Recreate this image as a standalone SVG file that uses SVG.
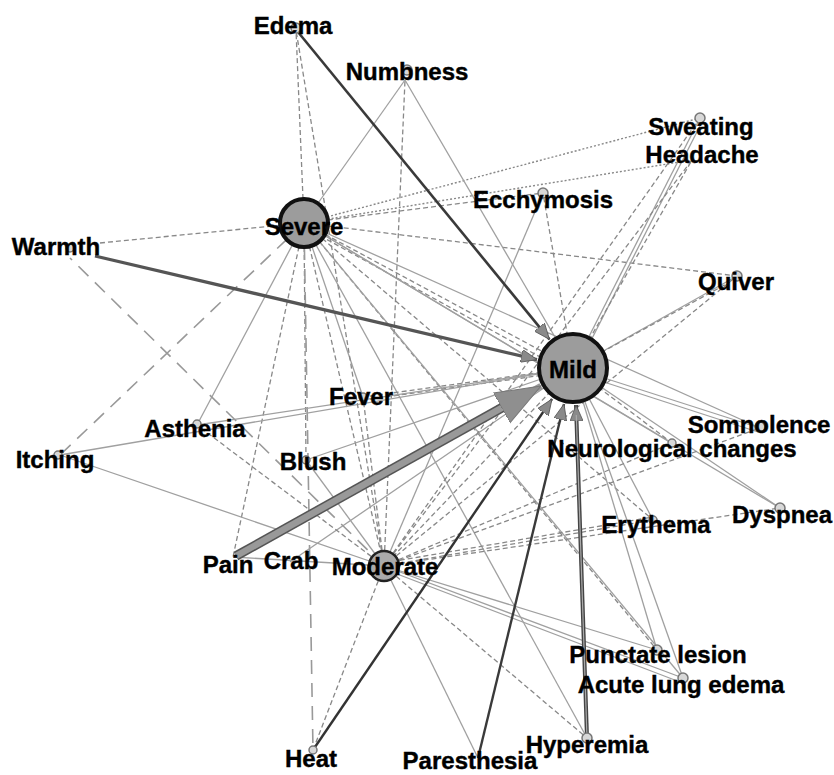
<svg xmlns="http://www.w3.org/2000/svg" width="834" height="775" viewBox="0 0 834 775">
<style>
.s{stroke:#a0a0a0;stroke-width:1.3;fill:none}
.d{stroke:#888;stroke-width:1.3;stroke-dasharray:5 3;fill:none}
.t{stroke:#888;stroke-width:1.4;stroke-dasharray:2 2;fill:none}
.l{stroke:#999;stroke-width:1.6;stroke-dasharray:14 9;fill:none}
.a{stroke:#3a3a3a;stroke-width:2.6;fill:none}
.lbl{font-family:"Liberation Sans",Arial,sans-serif;font-weight:bold;font-size:24px;fill:#000;stroke:#000;stroke-width:0.4;text-anchor:middle}
.sm{fill:#d8d8d8;stroke:#777;stroke-width:1.5}
.big{fill:#9c9c9c;stroke:#111;stroke-width:4}
</style>
<defs>
<marker id="ah" markerUnits="userSpaceOnUse" markerWidth="17" markerHeight="13" refX="16" refY="6.5" orient="auto">
<path d="M0,0 L16,6.5 L0,13 z" fill="#8a8a8a" stroke="#555" stroke-width="0.8"/>
</marker>
<marker id="ahb" markerUnits="userSpaceOnUse" markerWidth="46" markerHeight="36" refX="45" refY="18" orient="auto">
<path d="M0,1 L45,18 L0,35 z" fill="#8f8f8f" stroke="#777" stroke-width="1"/>
</marker>
</defs>
<rect width="834" height="775" fill="#fff"/>
<g id="connectors">
<line class="d" x1="304" y1="223" x2="296" y2="30"/>
<line class="s" x1="304" y1="223" x2="405" y2="80"/>
<line class="t" x1="304" y1="223" x2="700" y2="118"/>
<line class="t" x1="304" y1="223" x2="692" y2="160"/>
<line class="d" x1="304" y1="223" x2="543" y2="193"/>
<line class="d" x1="304" y1="223" x2="100" y2="243"/>
<line class="d" x1="304" y1="223" x2="737" y2="276"/>
<line class="d" x1="304" y1="223" x2="573" y2="368"/>
<line class="d" x1="306" y1="228" x2="571" y2="374"/>
<line class="l" x1="304" y1="223" x2="60" y2="455"/>
<line class="s" x1="304" y1="223" x2="197" y2="425"/>
<line class="d" x1="304" y1="223" x2="306" y2="460"/>
<line class="s" x1="304" y1="223" x2="363" y2="397"/>
<line class="d" x1="304" y1="223" x2="384" y2="566"/>
<line class="l" x1="304" y1="223" x2="313" y2="750"/>
<line class="d" x1="304" y1="223" x2="233" y2="557"/>
<line class="s" x1="304" y1="223" x2="760" y2="428"/>
<line class="s" x1="304" y1="223" x2="672" y2="443"/>
<line class="s" x1="304" y1="223" x2="780" y2="508"/>
<line class="d" x1="304" y1="223" x2="653" y2="520"/>
<line class="d" x1="304" y1="223" x2="657" y2="650"/>
<line class="s" x1="304" y1="223" x2="683" y2="678"/>
<line class="s" x1="304" y1="223" x2="587" y2="738"/>
<line class="s" x1="573" y1="368" x2="700" y2="118"/>
<line class="s" x1="577" y1="368" x2="703" y2="120"/>
<line class="d" x1="573" y1="368" x2="692" y2="160"/>
<line class="d" x1="573" y1="368" x2="543" y2="193"/>
<line class="s" x1="573" y1="368" x2="405" y2="80"/>
<line class="s" x1="573" y1="368" x2="737" y2="276"/>
<line class="d" x1="573" y1="368" x2="730" y2="282"/>
<line class="s" x1="573" y1="368" x2="760" y2="428"/>
<line class="s" x1="573" y1="372" x2="758" y2="432"/>
<line class="d" x1="573" y1="368" x2="672" y2="443"/>
<line class="s" x1="573" y1="368" x2="780" y2="508"/>
<line class="s" x1="573" y1="368" x2="653" y2="520"/>
<line class="s" x1="573" y1="368" x2="657" y2="650"/>
<line class="s" x1="573" y1="368" x2="683" y2="678"/>
<line class="d" x1="573" y1="368" x2="363" y2="397"/>
<line class="d" x1="573" y1="371" x2="363" y2="400"/>
<line class="s" x1="573" y1="368" x2="197" y2="425"/>
<line class="s" x1="573" y1="368" x2="306" y2="460"/>
<line class="s" x1="573" y1="368" x2="290" y2="562"/>
<line class="s" x1="573" y1="368" x2="60" y2="455"/>
<line class="d" x1="573" y1="368" x2="384" y2="566"/>
<line class="s" x1="384" y1="566" x2="233" y2="557"/>
<line class="d" x1="384" y1="566" x2="313" y2="750"/>
<line class="s" x1="384" y1="566" x2="478" y2="758"/>
<line class="d" x1="384" y1="566" x2="587" y2="738"/>
<line class="s" x1="384" y1="566" x2="657" y2="650"/>
<line class="s" x1="384" y1="566" x2="683" y2="678"/>
<line class="s" x1="384" y1="569" x2="680" y2="682"/>
<line class="d" x1="384" y1="566" x2="653" y2="520"/>
<line class="d" x1="384" y1="563" x2="653" y2="517"/>
<line class="d" x1="384" y1="566" x2="780" y2="508"/>
<line class="d" x1="384" y1="566" x2="672" y2="443"/>
<line class="d" x1="384" y1="566" x2="760" y2="428"/>
<line class="d" x1="384" y1="566" x2="363" y2="397"/>
<line class="s" x1="384" y1="566" x2="306" y2="460"/>
<line class="d" x1="384" y1="566" x2="197" y2="425"/>
<line class="s" x1="384" y1="566" x2="60" y2="455"/>
<line class="d" x1="384" y1="566" x2="405" y2="80"/>
<line class="d" x1="384" y1="566" x2="296" y2="30"/>
<line class="l" x1="384" y1="566" x2="70" y2="258"/>
<line class="s" x1="384" y1="566" x2="543" y2="193"/>
<line class="d" x1="384" y1="566" x2="700" y2="118"/>
<line class="d" x1="384" y1="566" x2="692" y2="160"/>
<line class="d" x1="384" y1="566" x2="737" y2="276"/>
<line class="a" x1="298" y1="32" x2="549.5" y2="339.4" marker-end="url(#ah)"/>
<line x1="95" y1="256" x2="537" y2="359.6" stroke="#555" stroke-width="3.2" marker-end="url(#ah)"/>
<line x1="313" y1="750" x2="552" y2="399" stroke="#333" stroke-width="2.4" marker-end="url(#ah)"/>
<line x1="478" y1="758" x2="564" y2="404" stroke="#3a3a3a" stroke-width="2.4" marker-end="url(#ah)"/>
<line x1="587" y1="738" x2="576" y2="405" stroke="#444" stroke-width="4" marker-end="url(#ah)"/>
<line x1="587" y1="738" x2="576.3" y2="415" stroke="#aaa" stroke-width="1.2"/>
<line x1="236" y1="556" x2="505" y2="406" stroke="#555" stroke-width="9.5"/>
<line x1="236" y1="556" x2="541" y2="386" stroke="#999" stroke-width="6.5" marker-end="url(#ahb)"/>
</g>
<g id="node-edema"><circle class="sm" cx="296" cy="28" r="5"/><text class="lbl" x="293" y="34">Edema</text></g>
<g id="node-numbness"><circle class="sm" cx="407" cy="70" r="5"/><text class="lbl" x="407" y="80">Numbness</text></g>
<g id="node-sweating"><circle class="sm" cx="700" cy="118" r="5"/><text class="lbl" x="701" y="135">Sweating</text></g>
<g id="node-headache"><text class="lbl" x="702" y="163">Headache</text></g>
<g id="node-ecchymosis"><circle class="sm" cx="543" cy="193" r="5"/><text class="lbl" x="543" y="208">Ecchymosis</text></g>
<g id="node-severe"><circle class="big" cx="304" cy="223" r="24"/><text class="lbl" x="304" y="235">Severe</text></g>
<g id="node-warmth"><circle class="sm" cx="70" cy="248" r="4"/><text class="lbl" x="56" y="255">Warmth</text></g>
<g id="node-quiver"><circle class="sm" cx="737" cy="276" r="5"/><text class="lbl" x="736" y="290">Quiver</text></g>
<g id="node-mild"><circle class="big" cx="573" cy="368" r="34" stroke-width="5"/><text class="lbl" x="573" y="378">Mild</text></g>
<g id="node-fever"><circle class="sm" cx="363" cy="397" r="4"/><text class="lbl" x="361" y="405">Fever</text></g>
<g id="node-asthenia"><circle class="sm" cx="197" cy="424" r="4"/><text class="lbl" x="195" y="437">Asthenia</text></g>
<g id="node-somnolence"><circle class="sm" cx="760" cy="427" r="5"/><text class="lbl" x="759" y="433">Somnolence</text></g>
<g id="node-neuro"><circle class="sm" cx="672" cy="443" r="4"/><text class="lbl" x="672" y="457">Neurological changes</text></g>
<g id="node-itching"><circle class="sm" cx="58" cy="455" r="4"/><text class="lbl" x="55" y="468">Itching</text></g>
<g id="node-blush"><circle class="sm" cx="306" cy="460" r="4"/><text class="lbl" x="313" y="470">Blush</text></g>
<g id="node-dyspnea"><circle class="sm" cx="780" cy="508" r="5"/><text class="lbl" x="782" y="523">Dyspnea</text></g>
<g id="node-erythema"><circle class="sm" cx="653" cy="520" r="4"/><text class="lbl" x="656" y="533">Erythema</text></g>
<g id="node-pain"><text class="lbl" x="228" y="573">Pain</text></g>
<g id="node-crab"><text class="lbl" x="291" y="569">Crab</text></g>
<g id="node-moderate"><circle cx="384" cy="566" r="15" fill="#aaa" stroke="#222" stroke-width="2.5"/><text class="lbl" x="385" y="575">Moderate</text></g>
<g id="node-punctate"><circle class="sm" cx="657" cy="650" r="5"/><text class="lbl" x="658" y="663">Punctate lesion</text></g>
<g id="node-ale"><circle class="sm" cx="683" cy="678" r="5"/><text class="lbl" x="681" y="693">Acute lung edema</text></g>
<g id="node-hyperemia"><circle class="sm" cx="587" cy="738" r="5"/><text class="lbl" x="587" y="753">Hyperemia</text></g>
<g id="node-heat"><circle class="sm" cx="313" cy="750" r="4"/><text class="lbl" x="311" y="767">Heat</text></g>
<g id="node-paresthesia"><text class="lbl" x="470" y="769">Paresthesia</text></g>
</svg>
